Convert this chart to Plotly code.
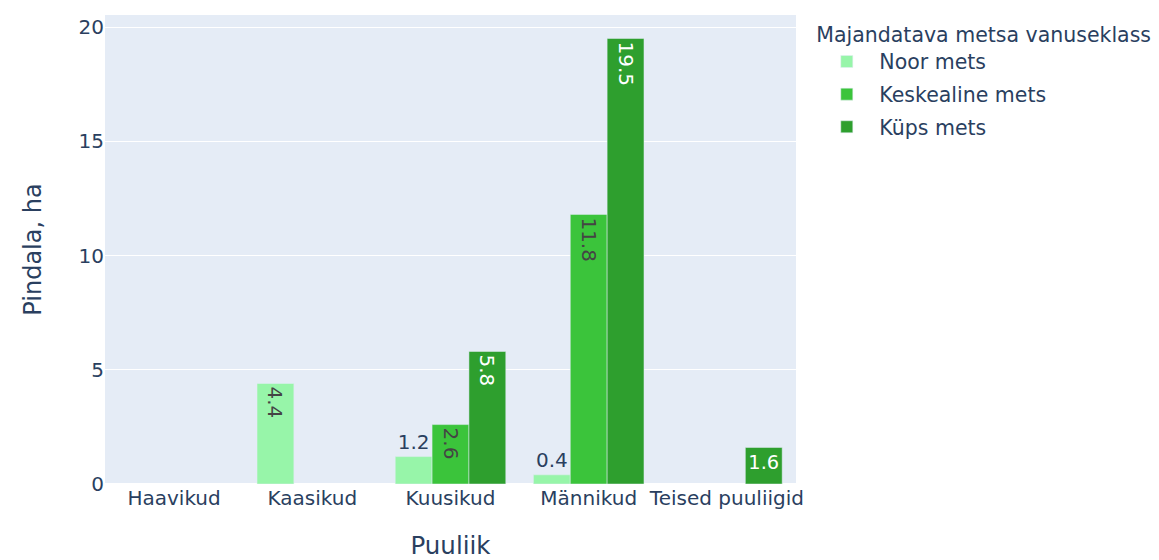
import plotly.graph_objects as go

# categories and values
puuliik = ["Haavikud", "Kaasikud", "Kuusikud", "Männikud", "Teised puuliigid"]
vanuseklassid = ["Noor mets", "Keskealine mets", "Küps mets"]
noor = [None, 4.4, 1.2, 0.4, None]
keskealine = [None, None, 2.6, 11.8, None]
kups = [None, None, 5.8, 19.5, 1.6]
colors = ["#97f5a9", "#3bc43b", "#2e9f2e"]

fig = go.Figure()
for name, vals, col in zip(vanuseklassid, [noor, keskealine, kups], colors):
    fig.add_trace(go.Bar(
        x=puuliik, y=vals, name=name,
        marker_color=col,
        legendgroup=name,
        text=[v if v is not None else "" for v in vals],
        textposition="auto",
    ))

# page body has an 8px margin, so the figure is a bit smaller
fig.update_layout(
    template="plotly",
    barmode="group",
    width=1151, height=552,
    font=dict(family="DejaVu Sans", size=20),
    margin=dict(l=97, r=362, t=7, b=76),
    legend=dict(title=dict(text="Majandatava metsa vanuseklass", font_size=20.5),
                font_size=20.5, tracegroupgap=3, itemwidth=55, x=1.025),
    xaxis=dict(title=dict(text="Puuliik", font_size=24.5, standoff=27),
               tickangle=0, automargin=False,
               categoryorder="array", categoryarray=puuliik),
    yaxis=dict(title=dict(text="Pindala, ha", font_size=24, standoff=30),
               automargin=False),
)

fig.write_html("out.html")
